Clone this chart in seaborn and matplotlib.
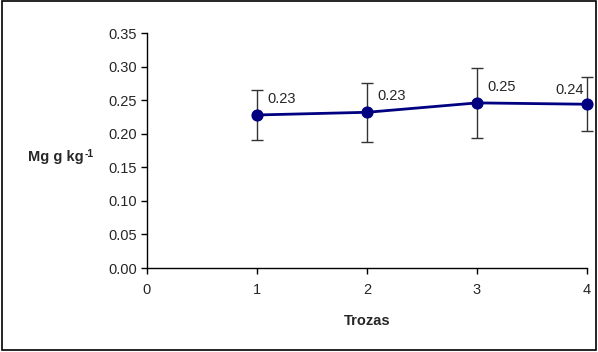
import matplotlib
matplotlib.use("Agg")
import matplotlib.pyplot as plt
import seaborn as sns
import pandas as pd
from matplotlib.patches import Rectangle

trozas = [1, 2, 3, 4]
mg_mean = [0.228, 0.232, 0.246, 0.244]
mg_err = [0.037, 0.044, 0.052, 0.040]
labels = ["0.23", "0.23", "0.25", "0.24"]
yticks = [0.00, 0.05, 0.10, 0.15, 0.20, 0.25, 0.30, 0.35]
xticks = [0, 1, 2, 3, 4]

sns.set_style("white")
plt.rcParams["font.family"] = ["Liberation Sans", "DejaVu Sans"]

df = pd.DataFrame({"Trozas": trozas, "Mg": mg_mean})

fig = plt.figure(figsize=(5.98, 3.52), dpi=100)
ax = fig.add_axes([0.2458, 0.2386, 0.9816 - 0.2458, 0.906 - 0.2386])

ax.errorbar(trozas, mg_mean, yerr=mg_err, fmt="none", ecolor="#333333",
            elinewidth=1, capsize=4, capthick=1, clip_on=False, zorder=2)
sns.lineplot(data=df, x="Trozas", y="Mg", ax=ax, color="#000080", linewidth=2,
             marker="o", markersize=8, markeredgecolor="#000080", clip_on=False, zorder=3)

for i, (x, y, t) in enumerate(zip(trozas, mg_mean, labels)):
    if i == len(trozas) - 1:
        ax.annotate(t, (x, y), xytext=(-3, 14), textcoords="offset pixels",
                    ha="right", va="center", fontsize=10.5)
    else:
        ax.annotate(t, (x, y), xytext=(10, 16), textcoords="offset pixels",
                    ha="left", va="center", fontsize=10.5)

ax.set_xlim(0, 4)
ax.set_ylim(0, 0.35)
ax.set_xticks(xticks)
ax.set_yticks(yticks)
ax.set_xticklabels([str(v) for v in xticks], fontsize=10.5)
ax.set_yticklabels([f"{v:.2f}" for v in yticks], fontsize=10.5)
ax.tick_params(axis="both", direction="out", length=4, width=1, color="black",
               pad=3, bottom=True, left=True)
ax.tick_params(axis="x", pad=7)
for s in ["top", "right"]:
    ax.spines[s].set_visible(False)
for s in ["left", "bottom"]:
    ax.spines[s].set_color("black")
    ax.spines[s].set_linewidth(1)

ax.set_xlabel("Trozas", fontsize=10.5, fontweight="bold", labelpad=12)
ax.set_ylabel("")
lab = fig.text(0.047, 0.553, "Mg g kg", fontsize=10.5, fontweight="bold",
               ha="left", va="center")
ax.annotate("-1", xy=(1, 0.75), xycoords=lab, xytext=(0.5, 0), textcoords="offset points",
            fontsize=7.5, fontweight="bold", ha="left", va="center", annotation_clip=False)

fig.patches.append(Rectangle((0.004, 0.006), 0.992, 0.99, transform=fig.transFigure,
                             fill=False, edgecolor="black", linewidth=1.2))

fig.savefig("out.png", dpi=100)
